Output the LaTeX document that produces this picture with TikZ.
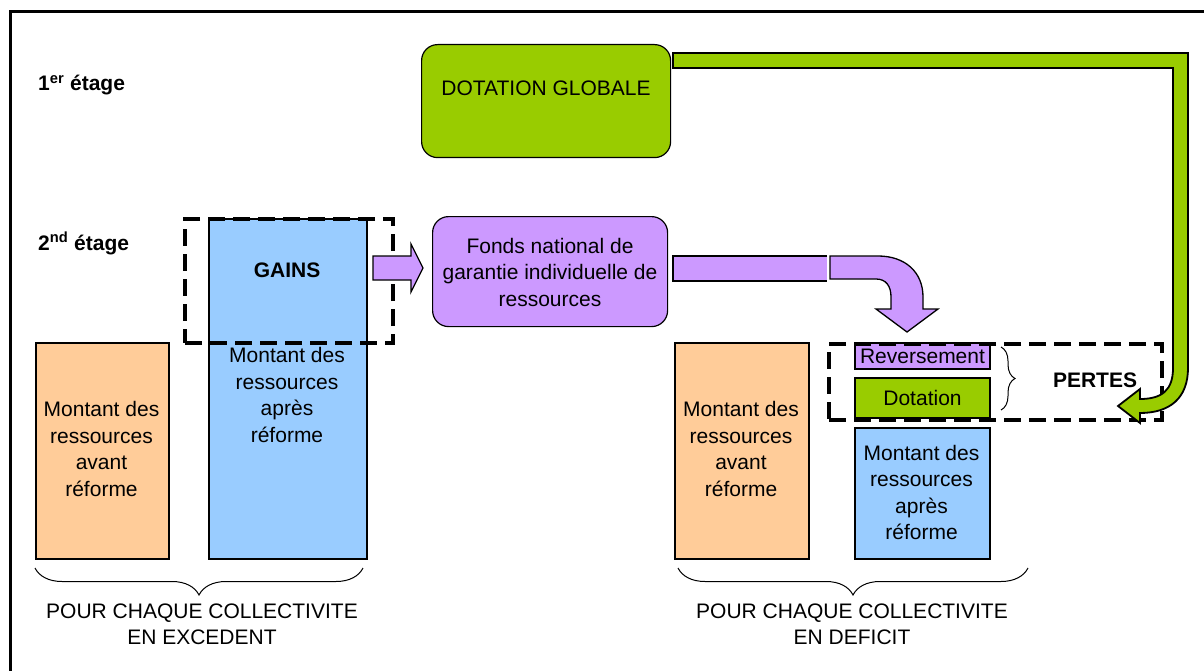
\documentclass[tikz,border=0pt]{standalone}
\usepackage{fontspec}
\setmainfont{Liberation Sans}
\usetikzlibrary{decorations.pathreplacing}
\definecolor{vert}{HTML}{99CC00}
\definecolor{mauve}{HTML}{CC99FF}
\definecolor{bleu}{HTML}{99CCFF}
\definecolor{peche}{HTML}{FFCC99}
\tikzset{
  txt/.style={font=\fontsize{21pt}{26.5pt}\selectfont, align=center, inner sep=0pt},
  lbl/.style={font=\fontsize{21pt}{25pt}\selectfont\bfseries, inner sep=0pt},
  rect/.style={draw=black, line width=2pt, inner sep=0pt, anchor=north west},
  rbox/.style={rect, rounded corners=16pt, line width=1.2pt},
  dashbox/.style={draw=black, line width=4pt, dash pattern=on 17pt off 8pt, inner sep=0pt, anchor=north west},
  blockarrow/.style={draw=black, line width=1.3pt, line join=miter},
  bracestyle/.style={decorate, line width=1pt},
}
\begin{document}
\begin{tikzpicture}[x=1pt,y=-1pt]
\useasboundingbox (0,0) rectangle (1204,671);
\draw[line width=3pt] (10,671) -- (10,12) -- (1204,12);

% stage labels
\node[lbl, anchor=base west] (e1) at (38,91) {1\textsuperscript{er} étage};
\node[lbl, anchor=base west] (e2) at (38,250) {2\textsuperscript{nd} étage};

% dotation globale
\node[rbox, fill=vert, minimum width=249pt, minimum height=113pt] (dg) at (421,44) {};
\node[txt] (dgt) at (546,88) {DOTATION GLOBALE};

% left side: excedent
\node[rect, fill=peche, minimum width=133pt, minimum height=216pt] (av1) at (35,342) {};
\node[txt] (av1t) at (101.5,449) {Montant des\\ressources\\avant\\réforme};
\node[rect, fill=bleu, minimum width=158pt, minimum height=340pt] (ap1) at (208,218) {};
\node[lbl] (gains) at (287,270) {GAINS};
\node[txt] (ap1t) at (287,395) {Montant des\\ressources\\après\\réforme};
\node[dashbox, minimum width=208pt, minimum height=124pt] (gbox) at (183,217) {};

% arrow gains -> fonds
\filldraw[blockarrow, fill=mauve] (373,256) -- (411,256) -- (411,244) -- (423,268) -- (411,292) -- (411,280) -- (373,280) -- cycle;

% fonds
\node[rbox, fill=mauve, minimum width=235pt, minimum height=110pt] (fonds) at (432,216) {};
\node[txt] (fondst) at (550,272) {Fonds national de\\garantie individuelle de\\ressources};

% band + curved arrow
\fill[mauve] (673,256) rectangle (827,281);
\draw[line width=2.5pt, line join=miter] (827,256) -- (673,256) -- (673,281) -- (827,281);
\filldraw[blockarrow, fill=mauve] (830,256) -- (878,256) .. controls (905,256) and (923,272) .. (923,297) -- (923,309) -- (938,309) -- (907,332) -- (876,309) -- (891,309) -- (891,297) .. controls (891,286) and (886,279) .. (876,279) -- (830,279) -- cycle;

% right side: deficit
\node[rect, fill=peche, minimum width=134pt, minimum height=216pt] (av2) at (674,342) {};
\node[txt] (av2t) at (741,449) {Montant des\\ressources\\avant\\réforme};
\node[rect, fill=mauve, minimum width=135pt, minimum height=26pt] (rev) at (854,342) {};
\node[txt] (revt) at (rev.center) {Reversement};
\node[rect, fill=vert, minimum width=135pt, minimum height=40pt] (dot) at (854,377) {};
\node[txt] (dott) at (dot.center) {Dotation};
\node[rect, fill=bleu, minimum width=135pt, minimum height=131pt] (ap2) at (854,427) {};
\node[txt] (ap2t) at (921.5,492.5) {Montant des\\ressources\\après\\réforme};
\node[dashbox, minimum width=333pt, minimum height=76pt] (pbox) at (827,342) {};
\coordinate (bra) at (1001,347);
\coordinate (brb) at (1001,410);
\draw[bracestyle, decoration={brace, amplitude=14pt}] (bra) -- (brb);
\node[lbl] (pertes) at (1095,380) {PERTES};

% green arrow
\filldraw[blockarrow, line width=1.8pt, fill=vert] (673,53) -- (1188,53) -- (1188,368) .. controls (1188,398) and (1170,413) .. (1140,413) -- (1140,423) -- (1118,406) -- (1140,389) -- (1140,399) .. controls (1162,399) and (1173,390) .. (1173,368) -- (1173,68) -- (673,68) -- cycle;

% bottom braces
\coordinate (b1a) at (363,568);
\coordinate (b1b) at (35,568);
\coordinate (b2a) at (1028,568);
\coordinate (b2b) at (678,568);
\draw[bracestyle, decoration={brace, amplitude=27pt}] (b1a) -- (b1b);
\draw[bracestyle, decoration={brace, amplitude=27pt}] (b2a) -- (b2b);
\node[txt, font=\fontsize{21pt}{26pt}\selectfont] (c1) at (202,624) {POUR CHAQUE COLLECTIVITE\\EN EXCEDENT};
\node[txt, font=\fontsize{21pt}{26pt}\selectfont] (c2) at (852,624) {POUR CHAQUE COLLECTIVITE\\EN DEFICIT};
\end{tikzpicture}
\end{document}
